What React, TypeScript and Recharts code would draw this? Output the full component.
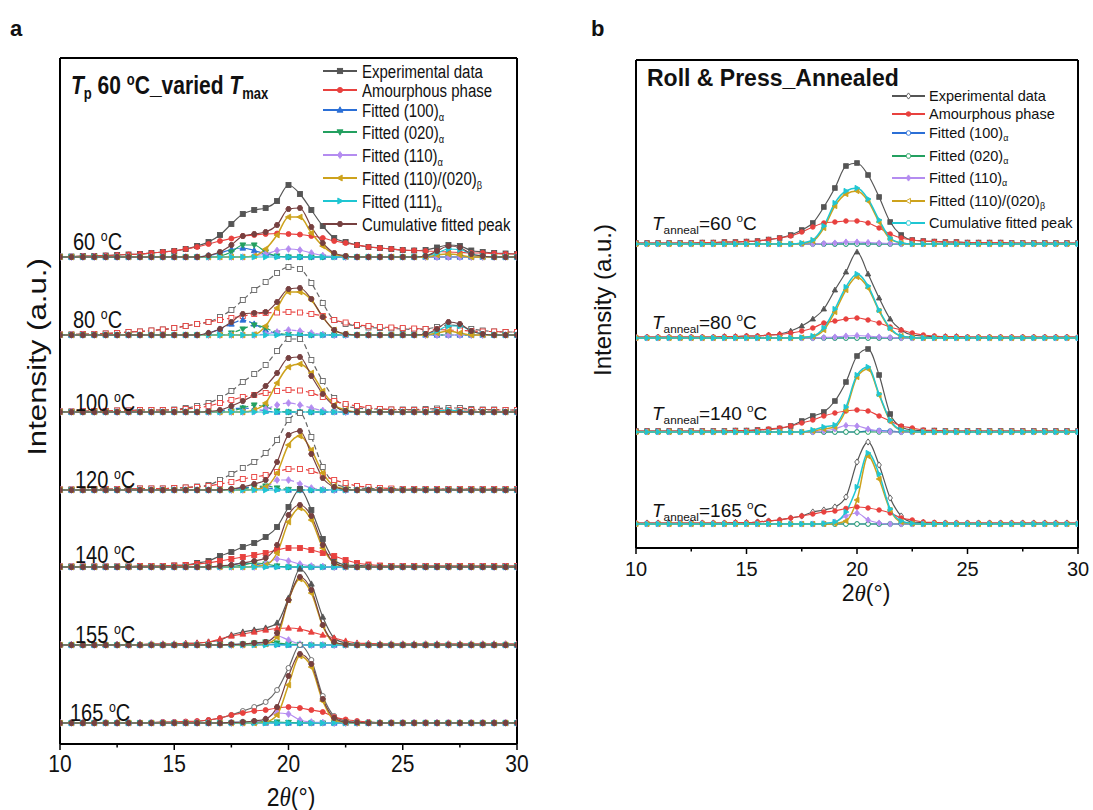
import React from 'react';
import { LineChart, Line, XAxis, YAxis, ReferenceLine } from 'recharts';

// 2theta grid (deg) shared by every curve
const X = [10, 10.5, 11, 11.5, 12, 12.5, 13, 13.5, 14, 14.5, 15, 15.5, 16, 16.5, 17, 17.5, 18, 18.5, 19, 19.5, 20, 20.5, 21, 21.5, 22, 22.5, 23, 23.5, 24, 24.5, 25, 25.5, 26, 26.5, 27, 27.5, 28, 28.5, 29, 29.5, 30];
const TICKS = [10, 12.5, 15, 17.5, 20, 22.5, 25, 27.5, 30];

// fitted peak: values listed from a start angle, zero elsewhere
const pk = (...parts: any[]) => {
  const out = X.map(() => 0);
  for (let i = 0; i < parts.length; i += 2) {
    const j0 = X.indexOf(parts[i]);
    parts[i + 1].forEach((v: number, k: number) => { out[j0 + k] = v; });
  }
  return out;
};

// ---------- panel a : Tp 60 C, varied Tmax ----------
const labelsA = ['60', '80', '100', '120', '140', '155', '165'];
const offsetsA = [487, 409, 332, 254, 177, 99, 21];

const a60Exp = [0.5, 0.5, 1, 1, 1.5, 2, 2.5, 3, 4, 5, 6, 8, 11, 15, 22, 33, 43, 47, 49, 56, 72, 63, 47, 31, 19, 15, 12, 10, 9, 8, 7, 6.5, 7, 9.5, 12, 11, 6.5, 5, 4, 3.5, 3];
const a60Amo = [0.5, 0.5, 1, 1, 1.5, 2, 2.5, 3, 4, 5, 6, 8, 10, 13, 16, 18.5, 21, 22, 23, 23.5, 23, 22.5, 21, 19, 16, 14, 12, 10, 9, 8, 7, 6.5, 6, 5.5, 5, 4.5, 4, 4, 3.5, 3, 3];
const a60P100 = pk(16.5, [1.5, 4, 7.5, 9, 6.5, 3, 1]);
const a60P020 = pk(17, [1, 5, 12, 12, 5, 1]);
const a60P110 = pk(18.5, [1, 3, 6.5, 8, 7, 4, 1.5, 0.5]);
const a60PB = pk(18.5, [1, 8, 22, 40, 40, 24, 11, 3, 0.5], 26.5, [2, 3, 2]);
const a60P111 = pk(26, [1, 4, 8, 7.5, 3, 1]);
const a60Cum = pk(16.5, [1.5, 5, 12, 21, 23, 25, 32, 48, 49, 30, 14, 4, 1], 26, [1, 6, 11, 9.5, 3, 1]);

const a80Exp = [0.5, 0.5, 1, 1, 1.5, 2, 3, 3.5, 4.5, 5.5, 7, 9, 11, 13, 18, 25, 35, 45, 53, 62, 68, 66, 52, 32, 15, 11, 9, 7.5, 7, 6.5, 6, 5.5, 6, 8, 10, 9, 6, 4.5, 3.5, 3, 3];
const a80Amo = [0.5, 0.5, 1, 1, 1.5, 2, 3, 3.5, 4.5, 5.5, 7, 9, 11, 13, 15, 17, 19, 21, 22, 22.5, 23, 22.5, 21, 19, 15, 12.5, 10, 9, 8, 7.5, 7, 6.5, 6, 5.5, 5, 4.5, 4, 3.5, 3.5, 3, 3];
const a80P100 = pk(16.5, [2, 6, 11, 15, 11, 5, 1.5]);
const a80P020 = pk(17.5, [2, 6, 10, 7, 2, 0.5]);
const a80P110 = pk(19, [1, 3, 5, 4, 2, 0.5]);
const a80PB = pk(18.5, [0.5, 9, 27, 43, 43, 35, 18, 5, 1], 26.5, [2, 4, 2]);
const a80P111 = pk(26, [1, 4, 9, 9, 4, 1]);
const a80Cum = pk(16.5, [2, 6, 13, 21, 22, 23, 33, 46, 47, 36, 18, 5, 1], 26, [1, 6, 13, 11, 4, 1]);

const a100Exp = [0.5, 0.5, 1, 1, 1, 1.5, 1.5, 2, 2, 2, 2.5, 4, 6, 9, 14, 21, 30, 38, 47, 61, 73, 73, 52, 31, 14, 6, 4, 3, 3, 2.5, 2.5, 2.5, 3, 3.5, 4, 4, 3, 2.5, 2.5, 2, 2];
const a100Amo = [0.5, 0.5, 1, 1, 1, 1.5, 1.5, 2, 2, 2, 2, 3, 4, 6, 9, 12, 15, 17, 19, 21, 22, 21.5, 19, 15, 11, 8, 6, 4, 3, 2.5, 2, 2, 2, 2, 2, 2, 2, 2, 2, 2, 2];
const a100P100 = pk(17, [1, 3, 4, 3, 1]);
const a100P020 = pk(17.5, [1, 4, 7, 5, 1]);
const a100P110 = pk(18.5, [0.5, 3, 7, 9, 7, 4, 1.5, 0.5]);
const a100PB = pk(18.5, [2, 9, 29, 45, 48, 39, 21, 7, 2]);
const a100P111 = pk(26.5, [1, 2, 1]);
const a100Cum = pk(16.5, [0.5, 2, 6, 11, 17, 26, 39, 54, 55, 36, 18, 6, 1]);

const a120Exp = [0.5, 0.5, 0.5, 1, 1, 1, 1, 1.5, 1.5, 1.5, 2, 2.5, 3.5, 5, 10, 16, 22, 28, 37, 50, 70, 77, 53, 23, 7, 3, 2, 1.5, 1, 1, 1, 1, 1, 1, 1, 1, 1, 1, 1, 1, 1];
const a120Amo = [0.5, 0.5, 0.5, 1, 1, 1, 1, 1.5, 1.5, 1.5, 2, 2.5, 3, 4, 6, 8, 11, 13, 15, 18, 21, 21, 19, 15, 10, 7, 4, 3, 2, 1.5, 1, 1, 1, 1, 1, 1, 1, 1, 1, 1, 1];
const a120P100 = pk(17.5, [1, 2, 3, 2, 1]);
const a120P020 = pk(18, [1, 3, 4, 2, 0.5]);
const a120P110 = pk(18.5, [0.5, 2, 10, 10, 6, 2, 0.5]);
const a120PB = pk(18.5, [0.5, 3, 17, 45, 54, 40, 17, 4, 1]);
const a120P111 = pk();
const a120Cum = pk(17.5, [1, 3, 6, 10, 28, 55, 59, 36, 12, 3, 0.5]);

const a140Exp = [0.5, 0.5, 0.5, 0.5, 0.5, 0.5, 0.5, 1, 1, 1, 1.5, 2, 4, 6, 11, 15, 20, 24, 30, 40, 60, 78, 57, 28, 7, 2, 1.5, 1, 1, 1, 1, 1, 1, 1, 1, 1, 1, 1, 1, 1, 1];
const a140Amo = [0.5, 0.5, 0.5, 0.5, 0.5, 0.5, 0.5, 1, 1, 1, 1.5, 2, 3, 4, 6, 8, 10, 12, 14, 17, 19, 19, 17, 14, 11, 7, 4, 2.5, 1.5, 1, 1, 1, 1, 1, 1, 1, 1, 1, 1, 1, 1];
const a140P100 = pk(17, [0.5, 2, 4, 3, 1, 0.5]);
const a140P020 = pk(17.5, [0.5, 2, 4, 3, 1]);
const a140P110 = pk(19, [3, 8, 6, 3, 1, 0.5]);
const a140PB = pk(18.5, [0.5, 2, 14, 45, 59, 47, 19, 4, 0.5]);
const a140P111 = pk();
const a140Cum = pk(17, [1, 2, 4, 6, 9, 22, 52, 62, 51, 22, 4, 0.5]);

const a155Exp = [0.5, 0.5, 0.5, 0.5, 0.5, 0.5, 0.5, 0.5, 1, 1, 1, 1.5, 2, 3, 5, 10, 13, 15, 17, 22, 47, 76, 61, 28, 7, 2, 1, 1, 1, 1, 1, 1, 1, 1, 1, 1, 1, 1, 1, 1, 1];
const a155Amo = [0.5, 0.5, 0.5, 0.5, 0.5, 0.5, 0.5, 0.5, 1, 1, 1, 1.5, 2, 3, 6, 9, 11, 13, 15, 16.5, 17, 16, 13, 10, 7, 4, 2, 1.5, 1, 1, 1, 1, 1, 1, 1, 1, 1, 1, 1, 1, 1];
const a155P100 = pk(17.5, [0.5, 1, 1.5, 1, 0.5]);
const a155P020 = pk(18, [1, 2, 3, 2, 1, 0.5]);
const a155P110 = pk(18.5, [0.5, 2, 9, 5, 1]);
const a155PB = pk(18.5, [0, 1, 8, 45, 66, 52, 19, 2, 0.5]);
const a155P111 = pk();
const a155Cum = pk(17.5, [0.5, 1, 2, 3, 12, 45, 68, 55, 20, 3, 0.5]);

const a165Exp = [0.5, 0.5, 0.5, 0.5, 0.5, 0.5, 0.5, 0.5, 0.5, 1, 1, 1, 1.5, 3, 5, 8, 12, 16, 21, 33, 55, 78, 63, 27, 7, 2, 1, 1, 0.5, 0.5, 0.5, 0.5, 0.5, 0.5, 0.5, 0.5, 0.5, 0.5, 0.5, 0.5, 0.5];
const a165Amo = [0.5, 0.5, 0.5, 0.5, 0.5, 0.5, 0.5, 0.5, 0.5, 1, 1, 1.5, 2, 3, 5, 8, 10, 12, 13, 15, 16, 15, 13, 11, 6, 3.5, 2, 1, 0.5, 0.5, 0.5, 0.5, 0.5, 0.5, 0.5, 0.5, 0.5, 0.5, 0.5, 0.5, 0.5];
const a165P100 = pk(17.5, [0.5, 1, 0.5]);
const a165P020 = pk(18, [0.5, 1, 1.5, 1, 0.5]);
const a165P110 = pk(18.5, [1, 4, 10, 9, 3, 1, 0.5]);
const a165PB = pk(18.5, [0, 1, 8, 38, 67, 56, 22, 3, 0.5]);
const a165P111 = pk();
const a165Cum = pk(17.5, [0.5, 1, 2, 4, 16, 47, 69, 59, 24, 5, 1, 0.5]);

// ---------- panel b : Roll & Press, annealed ----------
const labelsB = ['60', '80', '140', '165'];
const offsetsB = [304, 210, 116, 24];

const b60Exp = [1, 1, 1, 1, 1, 1, 1.5, 1.5, 2, 2, 2.5, 3, 4.5, 6, 9, 14, 21, 37, 56, 78, 81, 69, 47, 22, 9, 4, 3, 2.5, 2, 2, 1.5, 1.5, 1.5, 1.5, 1, 1, 1, 1, 1, 1, 1];
const b60Amo = [1, 1, 1, 1, 1, 1, 1.5, 1.5, 2, 2, 2.5, 3, 4.5, 6, 8, 12, 17, 21, 22, 23, 23, 21, 16, 10, 6, 4, 3, 2.5, 2, 2, 1.5, 1.5, 1.5, 1.5, 1, 1, 1, 1, 1, 1, 1];
const b60P100 = pk();
const b60P020 = pk();
const b60P110 = pk(18.5, [0.5, 1, 2, 2, 1.5, 1, 0.5]);
const b60PB = pk(17.5, [0.5, 3, 16, 38, 50, 53, 43, 22, 5, 1]);
const b60Cum = pk(17.5, [1, 4, 18, 41, 53, 56, 45, 24, 6, 1]);

const b80Exp = [1, 1, 1, 1, 1, 1, 1, 1, 1.5, 1.5, 2, 2, 3, 4, 7, 12, 19, 29, 48, 66, 86, 64, 40, 19, 8, 3, 2, 1.5, 1.5, 1.5, 1, 1, 1, 1, 1, 1, 1, 1, 1, 1, 1];
const b80Amo = [1, 1, 1, 1, 1, 1, 1, 1, 1.5, 1.5, 2, 2, 3, 3.5, 5, 7, 10, 15, 17, 19, 20, 18, 15, 11, 8, 5, 3, 2, 1.5, 1.5, 1, 1, 1, 1, 1, 1, 1, 1, 1, 1, 1];
const b80P100 = pk();
const b80P020 = pk();
const b80P110 = pk(18.5, [0.5, 1, 2, 2.5, 2, 1, 0.5]);
const b80PB = pk(17.5, [0.5, 1.5, 8, 26, 48, 61, 50, 27, 9, 2, 0.5]);
const b80Cum = pk(17.5, [0.5, 2, 10, 29, 51, 64, 52, 28, 10, 2, 0.5]);

const b140Exp = [1, 1, 1, 1, 1, 1, 1, 1, 1, 1.5, 1.5, 2, 2.5, 3.5, 6, 11, 16, 20, 31, 50, 76, 83, 57, 18, 5, 2, 1.5, 1.5, 1, 1, 1, 1, 1, 1, 1, 1, 1, 1, 1, 1, 1];
const b140Amo = [1, 1, 1, 1, 1, 1, 1, 1, 1, 1.5, 1.5, 2, 3, 4, 6, 9, 12, 16, 19, 21, 22, 21, 16, 11, 6, 4, 2, 1.5, 1, 1, 1, 1, 1, 1, 1, 1, 1, 1, 1, 1, 1];
const b140P100 = pk(20.5, [1, 1.5, 1]);
const b140P020 = pk();
const b140P110 = pk(18.5, [1, 3, 6.5, 6, 3, 1]);
const b140PB = pk(18, [1, 3, 5, 22, 55, 63, 37, 11, 2, 0.5]);
const b140Cum = pk(18, [2, 5, 7, 25, 57, 65, 38, 12, 2, 0.5]);

const b165Exp = [1, 1, 1, 1, 1, 1, 1, 1, 1, 1.5, 1.5, 2, 3, 4, 6, 8, 12, 14, 17, 27, 62, 82, 59, 26, 8, 2, 1.5, 1, 1, 1, 1, 1, 1, 1, 1, 1, 1, 1, 1, 1, 1];
const b165Amo = [1, 1, 1, 1, 1, 1, 1, 1, 1, 1.5, 1.5, 2, 3, 4, 6, 8, 10, 12, 13, 15.5, 17, 16, 14, 11, 6, 4, 2, 1.5, 1, 1, 1, 1, 1, 1, 1, 1, 1, 1, 1, 1, 1];
const b165P100 = pk();
const b165P020 = pk();
const b165P110 = pk(18.5, [0.5, 2, 8, 11, 4, 1]);
const b165PB = pk(19, [0.5, 3, 24, 68, 45, 14, 2, 0.5]);
const b165Cum = pk(18.5, [0.5, 2, 12, 37, 71, 50, 15, 3, 0.5]);

// ---------- styling ----------
const FONT = '"Liberation Sans", Arial, sans-serif';
const GRAY = '#555555';
const RED = '#e8413e';
const BLUE = '#2b6fd6';
const GREEN = '#23a060';
const PURPLE = '#b48cf0';
const GOLD = '#cda21c';
const CYAN = '#1fc6d2';
const BROWN = '#764040';

const groupsA = [
  { exp: a60Exp, amo: a60Amo, p100: a60P100, p020: a60P020, p110: a60P110, pB: a60PB, p111: a60P111, cum: a60Cum },
  { exp: a80Exp, amo: a80Amo, p100: a80P100, p020: a80P020, p110: a80P110, pB: a80PB, p111: a80P111, cum: a80Cum },
  { exp: a100Exp, amo: a100Amo, p100: a100P100, p020: a100P020, p110: a100P110, pB: a100PB, p111: a100P111, cum: a100Cum },
  { exp: a120Exp, amo: a120Amo, p100: a120P100, p020: a120P020, p110: a120P110, pB: a120PB, p111: a120P111, cum: a120Cum },
  { exp: a140Exp, amo: a140Amo, p100: a140P100, p020: a140P020, p110: a140P110, pB: a140PB, p111: a140P111, cum: a140Cum },
  { exp: a155Exp, amo: a155Amo, p100: a155P100, p020: a155P020, p110: a155P110, pB: a155PB, p111: a155P111, cum: a155Cum },
  { exp: a165Exp, amo: a165Amo, p100: a165P100, p020: a165P020, p110: a165P110, pB: a165PB, p111: a165P111, cum: a165Cum },
];
const groupsB = [
  { exp: b60Exp, amo: b60Amo, p100: b60P100, p020: b60P020, p110: b60P110, pB: b60PB, cum: b60Cum },
  { exp: b80Exp, amo: b80Amo, p100: b80P100, p020: b80P020, p110: b80P110, pB: b80PB, cum: b80Cum },
  { exp: b140Exp, amo: b140Amo, p100: b140P100, p020: b140P020, p110: b140P110, pB: b140PB, cum: b140Cum },
  { exp: b165Exp, amo: b165Amo, p100: b165P100, p020: b165P020, p110: b165P110, pB: b165PB, cum: b165Cum },
];

// marker look of experimental / amorphous curves per sample
const lookA = [
  { es: 'sq', eh: false, as: 'ci', ah: false, dash: undefined },
  { es: 'sq', eh: true, as: 'sq', ah: true, dash: '5 3' },
  { es: 'sq', eh: true, as: 'sq', ah: true, dash: '5 3' },
  { es: 'sq', eh: true, as: 'sq', ah: true, dash: '5 3' },
  { es: 'sq', eh: false, as: 'sq', ah: false, dash: undefined },
  { es: 'tu', eh: false, as: 'tu', ah: false, dash: undefined },
  { es: 'ci', eh: true, as: 'ci', ah: false, dash: undefined },
];
const lookB = [
  { es: 'sq', eh: false },
  { es: 'tu', eh: false },
  { es: 'sq', eh: false },
  { es: 'di', eh: true },
];

const SER_A = [
  { k: 'exp', c: GRAY, s: 'sq' },
  { k: 'amo', c: RED, s: 'ci' },
  { k: 'p100', c: BLUE, s: 'tu' },
  { k: 'p020', c: GREEN, s: 'td' },
  { k: 'p110', c: PURPLE, s: 'di' },
  { k: 'pB', c: GOLD, s: 'tl' },
  { k: 'p111', c: CYAN, s: 'tr' },
  { k: 'cum', c: BROWN, s: 'hx' },
];
const SER_B = [
  { k: 'exp', c: GRAY, s: 'di' },
  { k: 'amo', c: RED, s: 'ci' },
  { k: 'p100', c: BLUE, s: 'ci' },
  { k: 'p020', c: GREEN, s: 'hx' },
  { k: 'p110', c: PURPLE, s: 'di' },
  { k: 'pB', c: GOLD, s: 'tl' },
  { k: 'cum', c: CYAN, s: 'tr' },
];

const rowsA = X.map((x, i) => {
  const r: any = { x };
  groupsA.forEach((g: any, gi) => SER_A.forEach((s) => { r[`a${gi}_${s.k}`] = offsetsA[gi] + g[s.k][i]; }));
  return r;
});
const rowsB = X.map((x, i) => {
  const r: any = { x };
  groupsB.forEach((g: any, gi) => SER_B.forEach((s) => { r[`b${gi}_${s.k}`] = offsetsB[gi] + g[s.k][i]; }));
  return r;
});

function mk(shape: string, x: number, y: number, s: number, color: string, hollow: boolean, key?: any) {
  const fill = hollow ? '#fff' : color;
  const common = { key, fill, stroke: color, strokeWidth: 0.9 };
  switch (shape) {
    case 'sq':
      return <rect {...common} x={x - s} y={y - s} width={2 * s} height={2 * s} />;
    case 'ci':
      return <circle {...common} cx={x} cy={y} r={s} />;
    case 'tu':
      return <path {...common} d={`M${x},${y - s * 1.25}L${x + s * 1.15},${y + s * 0.85}L${x - s * 1.15},${y + s * 0.85}Z`} />;
    case 'td':
      return <path {...common} d={`M${x},${y + s * 1.25}L${x + s * 1.15},${y - s * 0.85}L${x - s * 1.15},${y - s * 0.85}Z`} />;
    case 'tl':
      return <path {...common} d={`M${x - s * 1.25},${y}L${x + s * 0.85},${y - s * 1.15}L${x + s * 0.85},${y + s * 1.15}Z`} />;
    case 'tr':
      return <path {...common} d={`M${x + s * 1.25},${y}L${x - s * 0.85},${y - s * 1.15}L${x - s * 0.85},${y + s * 1.15}Z`} />;
    case 'di':
      return <path {...common} d={`M${x},${y - s * 1.35}L${x + s},${y}L${x},${y + s * 1.35}L${x - s},${y}Z`} />;
    default: {
      const pts = [0, 1, 2, 3, 4, 5].map((i) => {
        const a = (Math.PI / 3) * i;
        return `${x + s * 1.1 * Math.cos(a)},${y + s * 1.1 * Math.sin(a)}`;
      });
      return <polygon {...common} points={pts.join(' ')} />;
    }
  }
}

const makeTick = (fs: number, sy: number, dy: number) => (p: any) => {
  const v = p.payload.value;
  const major = v % 5 === 0;
  const ty = p.y + dy;
  return (
    <g>
      <line x1={p.x} x2={p.x} y1={p.y} y2={p.y + (major ? 6 : 3.5)} stroke="#000" strokeWidth={1.5} />
      {major && (
        <text x={p.x} y={ty} textAnchor="middle" dominantBaseline="central" fontSize={fs} fontFamily={FONT} fill="#111"
          transform={`translate(0 ${ty}) scale(1 ${sy}) translate(0 ${-ty})`}>
          {v}
        </text>
      )}
    </g>
  );
};

// absolutely placed text, optionally stretched vertically like the source
function Txt({ x, y, size, sy = 1, anchor = 'start', bold = false, rot = false, children }: any) {
  return (
    <div style={{ position: 'absolute', left: x, top: y, transformOrigin: '0 0', transform: `scaleY(${sy})${rot ? ' rotate(-90deg)' : ''}` }}>
      <div style={{
        transform: `translate(${anchor === 'middle' ? '-50%' : '0'}, -50%)`, whiteSpace: 'nowrap', fontFamily: FONT,
        fontSize: size, fontWeight: bold ? 700 : 400, lineHeight: 1, color: '#111',
      }}>
        {children}
      </div>
    </div>
  );
}
const Sub = ({ children }: any) => <span style={{ fontSize: '0.62em', verticalAlign: '-0.35em', lineHeight: 0 }}>{children}</span>;
const Sup = ({ children }: any) => <span style={{ fontSize: '0.62em', verticalAlign: '0.6em', lineHeight: 0 }}>{children}</span>;
const Deg = () => <Sup>o</Sup>;

const legendA = [
  { c: GRAY, s: 'sq', t: <>Experimental data</> },
  { c: RED, s: 'ci', t: <>Amourphous phase</> },
  { c: BLUE, s: 'tu', t: <>Fitted (100)<Sub>α</Sub></> },
  { c: GREEN, s: 'td', t: <>Fitted (020)<Sub>α</Sub></> },
  { c: PURPLE, s: 'di', t: <>Fitted (110)<Sub>α</Sub></> },
  { c: GOLD, s: 'tl', t: <>Fitted (110)/(020)<Sub>β</Sub></> },
  { c: CYAN, s: 'tr', t: <>Fitted (111)<Sub>α</Sub></> },
  { c: BROWN, s: 'hx', t: <>Cumulative fitted peak</> },
];
const legendAY = [71, 90, 110, 132, 155, 178, 201, 224];
const legendB = [
  { c: GRAY, s: 'di', h: true, t: <>Experimental data</> },
  { c: RED, s: 'ci', h: false, t: <>Amourphous phase</> },
  { c: BLUE, s: 'ci', h: true, t: <>Fitted (100)<Sub>α</Sub></> },
  { c: GREEN, s: 'hx', h: true, t: <>Fitted (020)<Sub>α</Sub></> },
  { c: PURPLE, s: 'di', h: false, t: <>Fitted (110)<Sub>α</Sub></> },
  { c: GOLD, s: 'tl', h: true, t: <>Fitted (110)/(020)<Sub>β</Sub></> },
  { c: CYAN, s: 'hx', h: true, t: <>Cumulative fitted peak</> },
];
const legendBY = [96, 114, 133, 156, 178, 201, 223];

function LegendRow({ x1, x2, tx, y, c, s, h, size, fs, sy, children }: any) {
  return (
    <>
      <svg style={{ position: 'absolute', left: x1, top: y - 6 }} width={x2 - x1} height={12}>
        <line x1={0} x2={x2 - x1} y1={6} y2={6} stroke={c} strokeWidth={2} />
        {mk(s, (x2 - x1) / 2, 6, size, c, !!h)}
      </svg>
      <Txt x={tx} y={y} size={fs} sy={sy}>{children}</Txt>
    </>
  );
}

const yLabelA = [242, 320, 403, 480, 555, 635, 713];
const xLabelA = [73, 73, 75, 75, 75, 75, 70];
const yLabelB = [223, 322, 413, 510];

export default function App() {
  return (
    <div style={{ position: 'absolute', left: 0, top: 0, width: 1093, height: 810, background: '#fff', overflow: 'hidden' }}>
      {/* panel a */}
      <div style={{ position: 'absolute', left: 0, top: 0 }}>
        <LineChart width={540} height={810} data={rowsA} margin={{ top: 58, right: 23, bottom: 6, left: 60 }}>
          <XAxis dataKey="x" type="number" domain={[10, 30]} ticks={TICKS} interval={0} height={60}
            tickSize={0} tickMargin={0} tickLine={false} tick={makeTick(21, 1.18, 19)}
            axisLine={{ stroke: '#000', strokeWidth: 2 }} allowDataOverflow />
          <YAxis type="number" domain={[0, 686]} hide allowDataOverflow />
          <ReferenceLine x={10} stroke="#000" strokeWidth={2} />
          <ReferenceLine x={30} stroke="#000" strokeWidth={2} />
          <ReferenceLine y={686} stroke="#000" strokeWidth={2} />
          {groupsA.map((_, gi) =>
            SER_A.map((s) => {
              const lk = lookA[gi];
              const shape = s.k === 'exp' ? lk.es : s.k === 'amo' ? lk.as : s.s;
              const hollow = s.k === 'exp' ? lk.eh : s.k === 'amo' ? lk.ah : false;
              const dashed = lk.dash && ['exp', 'amo', 'p100', 'p020', 'p110'].includes(s.k) ? lk.dash : undefined;
              const col = s.k === 'exp' && lk.eh ? '#666' : s.c;
              return (
                <Line key={`a${gi}_${s.k}`} dataKey={`a${gi}_${s.k}`} type="monotone" stroke={col}
                  strokeWidth={s.k === 'pB' ? 1.5 : 1.2} strokeDasharray={dashed}
                  dot={(p: any) => mk(shape, p.cx, p.cy, 2.5, col, hollow, p.index)}
                  activeDot={false} isAnimationActive={false} />
              );
            })
          )}
        </LineChart>
      </div>

      {/* panel b */}
      <div style={{ position: 'absolute', left: 560, top: 0 }}>
        <LineChart width={533} height={810} data={rowsB} margin={{ top: 60, right: 15, bottom: 202, left: 76 }}>
          <XAxis dataKey="x" type="number" domain={[10, 30]} ticks={TICKS} interval={0} height={60}
            tickSize={0} tickMargin={0} tickLine={false} tick={makeTick(20, 1, 21)}
            axisLine={{ stroke: '#000', strokeWidth: 2 }} allowDataOverflow />
          <YAxis type="number" domain={[0, 488]} hide allowDataOverflow />
          <ReferenceLine x={10} stroke="#000" strokeWidth={2} />
          <ReferenceLine x={30} stroke="#000" strokeWidth={2} />
          <ReferenceLine y={488} stroke="#000" strokeWidth={2} />
          {groupsB.map((_, gi) =>
            SER_B.map((s) => {
              const lk = lookB[gi];
              const shape = s.k === 'exp' ? lk.es : s.s;
              const hollow = s.k === 'exp' ? lk.eh : ['p100', 'p020'].includes(s.k);
              return (
                <Line key={`b${gi}_${s.k}`} dataKey={`b${gi}_${s.k}`} type="monotone" stroke={s.c}
                  strokeWidth={s.k === 'pB' || s.k === 'cum' ? 1.5 : 1.2}
                  dot={(p: any) => mk(shape, p.cx, p.cy, 2.3, s.c, hollow, p.index)}
                  activeDot={false} isAnimationActive={false} />
              );
            })
          )}
        </LineChart>
      </div>

      {/* panel letters */}
      <Txt x={10} y={29} size={22} bold>a</Txt>
      <Txt x={591} y={29} size={22} bold>b</Txt>

      {/* panel a texts */}
      <Txt x={71} y={85} size={21} sy={1.2} bold>
        <i>T</i><Sub>p</Sub> 60 <Deg />C_varied <i>T</i><Sub>max</Sub>
      </Txt>
      {legendA.map((l, i) => (
        <LegendRow key={i} x1={323} x2={357} tx={362} y={legendAY[i]} c={l.c} s={l.s} size={2.6} fs={15} sy={1.2}>{l.t}</LegendRow>
      ))}
      {labelsA.map((t, i) => (
        <Txt key={t} x={xLabelA[i]} y={yLabelA[i]} size={20} sy={1.2}>{t} <Deg />C</Txt>
      ))}
      <Txt x={37} y={357} size={26} sy={1.2} anchor="middle" rot>Intensity (a.u.)</Txt>
      <Txt x={291} y={797} size={23} sy={1.15} anchor="middle">
        2<span style={{ fontFamily: '"Liberation Serif", serif', fontStyle: 'italic' }}>θ</span>(°)
      </Txt>

      {/* panel b texts */}
      <Txt x={647} y={78} size={23} bold>Roll &amp; Press_Annealed</Txt>
      {legendB.map((l, i) => (
        <LegendRow key={i} x1={892} x2={925} tx={929} y={legendBY[i]} c={l.c} s={l.s} h={l.h} size={2.3} fs={14.5}>{l.t}</LegendRow>
      ))}
      {labelsB.map((t, i) => (
        <Txt key={t} x={652} y={yLabelB[i]} size={19}><i>T</i><Sub>anneal</Sub>={t} <Deg />C</Txt>
      ))}
      <Txt x={603} y={300} size={24} anchor="middle" rot>Intensity (a.u.)</Txt>
      <Txt x={866} y={593} size={23} anchor="middle">
        2<span style={{ fontFamily: '"Liberation Serif", serif', fontStyle: 'italic' }}>θ</span>(°)
      </Txt>
    </div>
  );
}
